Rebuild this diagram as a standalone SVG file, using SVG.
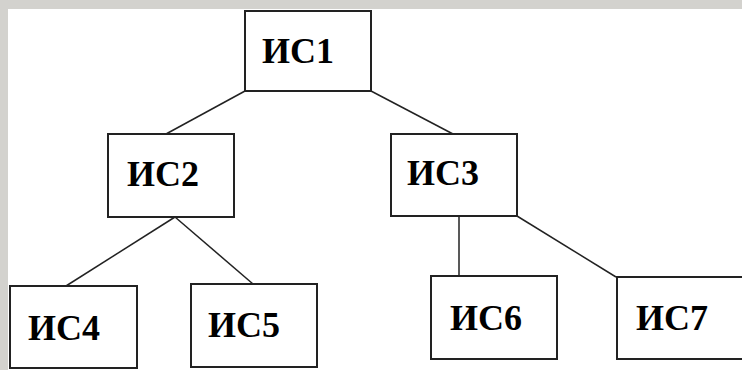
<svg xmlns="http://www.w3.org/2000/svg" width="742" height="370" viewBox="0 0 742 370">
  <style>
    .box { fill: #ffffff; stroke: #222222; stroke-width: 2; }
    .lbl { font-family: "Liberation Serif", "Times New Roman", serif; font-weight: bold; font-size: 36px; fill: #000000; }
    .link { stroke: #222222; stroke-width: 1.5; fill: none; }
  </style>
  <!-- frame -->
  <rect x="0" y="0" width="742" height="370" fill="#d3d2ce"/>
  <rect x="8" y="9" width="734" height="361" fill="#ffffff"/>

  <g id="connectors">
    <line class="link" x1="245" y1="91" x2="166" y2="134"/>
    <line class="link" x1="371" y1="91" x2="453" y2="134"/>
    <line class="link" x1="175" y1="217" x2="66" y2="286"/>
    <line class="link" x1="175" y1="217" x2="253" y2="284"/>
    <line class="link" x1="459" y1="216" x2="459" y2="276"/>
    <line class="link" x1="517" y1="216" x2="616" y2="277"/>
  </g>

  <g id="is1">
    <rect class="box" x="245" y="11" width="126" height="80"/>
    <text class="lbl" x="262" y="63">ИС1</text>
  </g>
  <g id="is2">
    <rect class="box" x="108" y="134" width="126" height="83"/>
    <text class="lbl" x="127" y="186">ИС2</text>
  </g>
  <g id="is3">
    <rect class="box" x="391" y="134" width="126" height="82"/>
    <text class="lbl" x="407" y="185">ИС3</text>
  </g>
  <g id="is4">
    <rect class="box" x="10" y="286" width="127" height="82"/>
    <text class="lbl" x="28" y="340">ИС4</text>
  </g>
  <g id="is5">
    <rect class="box" x="191" y="284" width="126" height="83"/>
    <text class="lbl" x="208" y="337">ИС5</text>
  </g>
  <g id="is6">
    <rect class="box" x="431" y="276" width="126" height="83"/>
    <text class="lbl" x="450" y="330">ИС6</text>
  </g>
  <g id="is7">
    <rect class="box" x="617" y="277" width="126" height="82"/>
    <text class="lbl" x="636" y="330">ИС7</text>
  </g>
</svg>
